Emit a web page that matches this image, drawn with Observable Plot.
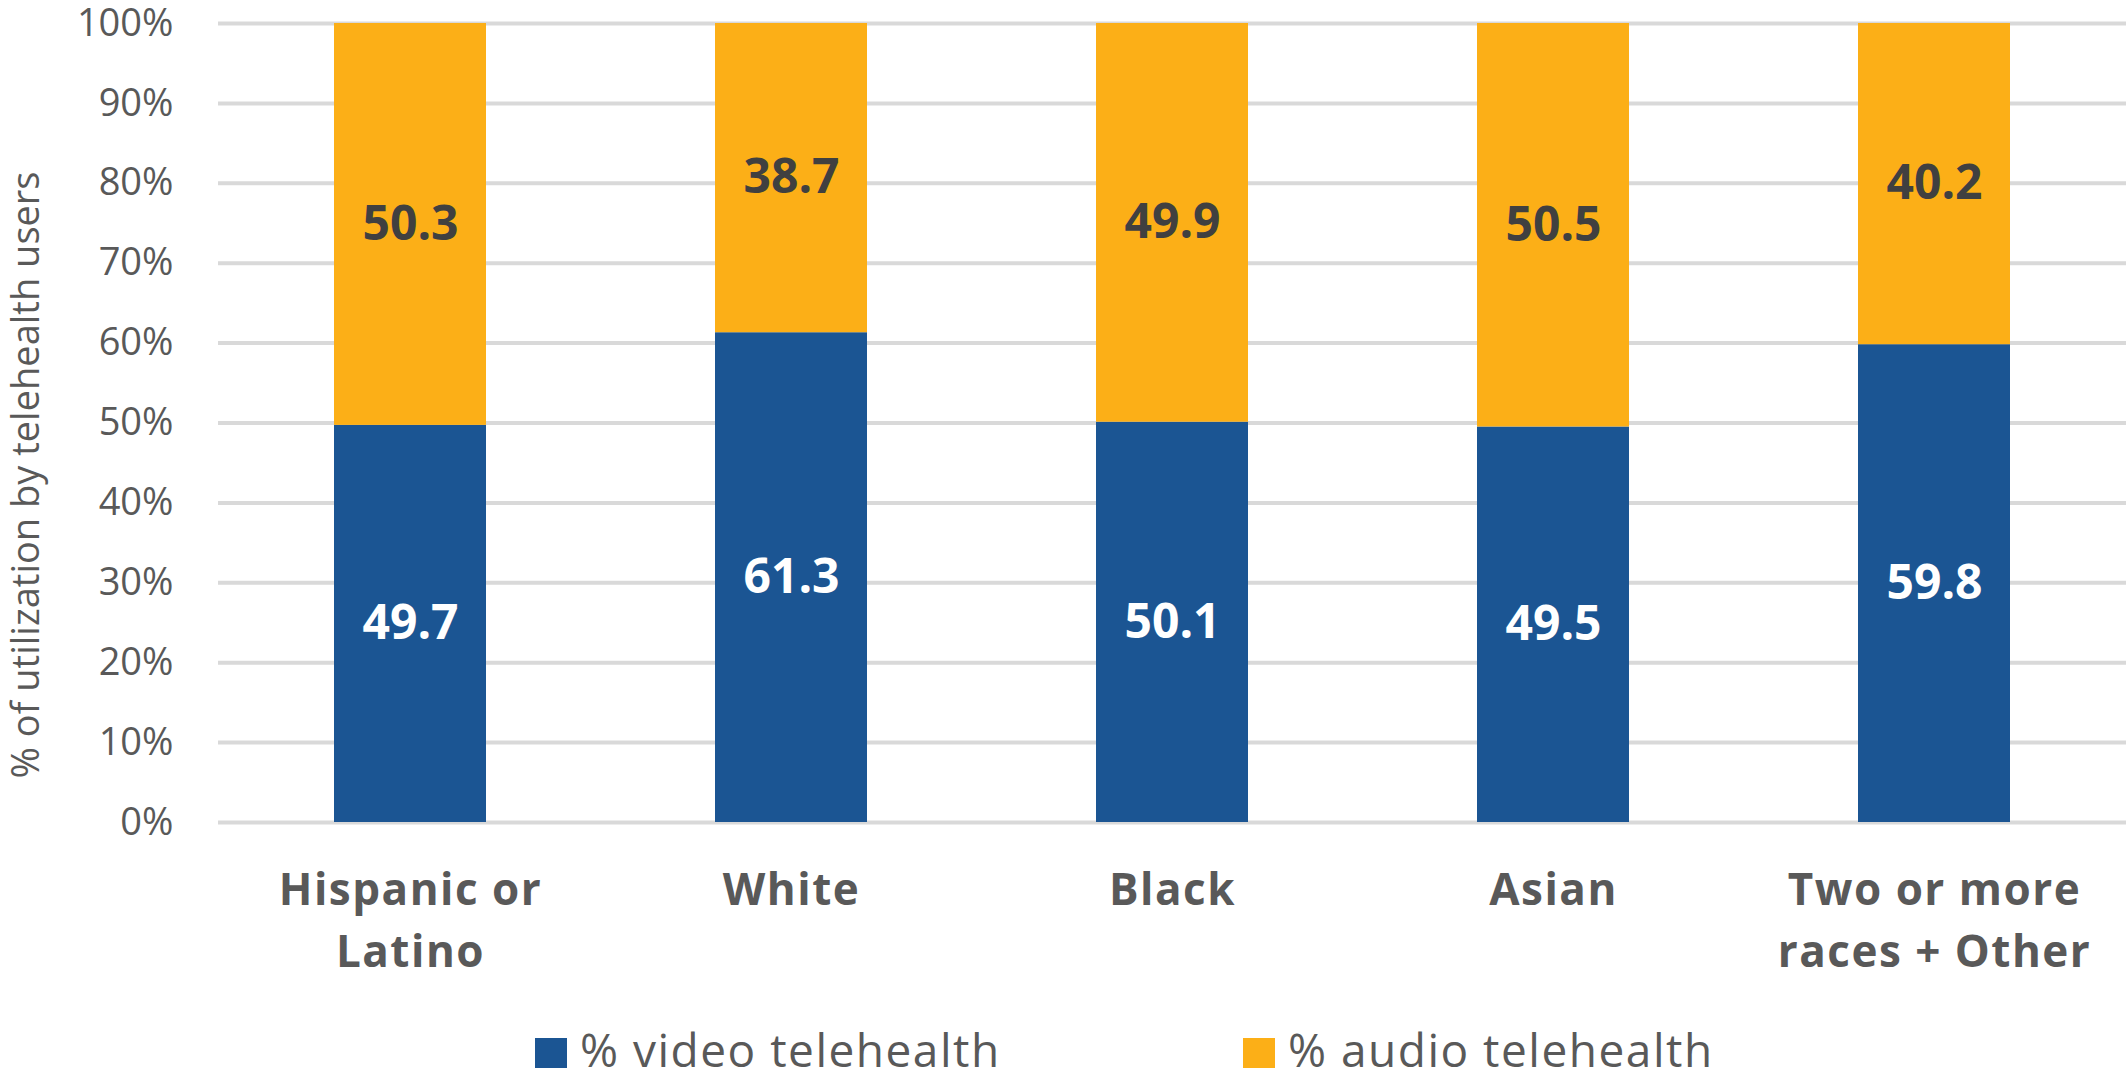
<!DOCTYPE html>
<html><head><meta charset="utf-8">
<script src="https://cdn.jsdelivr.net/npm/d3@7"></script>
<script src="https://cdn.jsdelivr.net/npm/@observablehq/plot@0.6"></script>
<style>
body{margin:0;background:#fff;font-family:"Open Sans",sans-serif;}
#wrap{position:relative;width:2126px;height:1073px;overflow:hidden;background:#fff;}
#wrap svg{position:absolute;left:0;top:0;}
g[aria-label="x-axis tick label"] text{letter-spacing:1.5px;}
.sw{position:absolute;width:32px;height:30px;}
.lt{position:absolute;font-size:46px;line-height:48px;color:#595959;white-space:nowrap;letter-spacing:1.5px;}
</style></head><body><div id="wrap"></div>
<script>
const categories = ["Hispanic or Latino","White","Black","Asian","Two or more races + Other"];
const tickLabels = ["Hispanic or\nLatino","White","Black","Asian","Two or more\nraces + Other"];
const seriesNames = ["% video telehealth","% audio telehealth"];
const videoValues = [49.7,61.3,50.1,49.5,59.8];
const audioValues = [50.3,38.7,49.9,50.5,40.2];
const yTicks = [0,10,20,30,40,50,60,70,80,90,100];
const yTitle = "% of utilization by telehealth users";
const seriesColors = ["#1b5593","#fcaf17"];

const rows = categories.flatMap((c,i)=>[
  {race:c, series:seriesNames[0], value:videoValues[i]},
  {race:c, series:seriesNames[1], value:audioValues[i]}
]);

const chart = Plot.plot({
  width:2126, height:1010,
  marginLeft:218, marginRight:0, marginTop:23, marginBottom:188,
  style:{fontFamily:'"Open Sans", sans-serif', background:"#fff", overflow:"visible"},
  x:{domain:categories, paddingInner:0.6, paddingOuter:0.3, label:null},
  y:{domain:[0,100], label:null},
  color:{domain:seriesNames, range:seriesColors},
  marks:[
    Plot.gridY(yTicks, {stroke:"#d9d9d9", strokeOpacity:1, strokeWidth:4}),
    Plot.axisY(yTicks, {tickSize:0, tickPadding:45, tickFormat:d=>d+"%", fontSize:38, fill:"#595959", label:null}),
    Plot.axisX({tickSize:0, tickPadding:38, tickFormat:d=>tickLabels[categories.indexOf(d)], fontSize:44, fontWeight:"bold", fill:"#595959", lineHeight:1.42, label:null}),
    Plot.barY(rows, {x:"race", y:"value", fill:"series"}),
    Plot.text(rows, Plot.stackY({x:"race", y:"value", z:"series",
      text:d=>d.series===seriesNames[0] ? d.value.toFixed(1) : null,
      fill:"#ffffff", fontSize:48, fontWeight:"bold"})),
    Plot.text(rows, Plot.stackY({x:"race", y:"value", z:"series",
      text:d=>d.series===seriesNames[1] ? d.value.toFixed(1) : null,
      fill:"#404040", fontSize:48, fontWeight:"bold"}))
  ]
});

const wrap = document.getElementById("wrap");
wrap.appendChild(chart);

d3.select(chart).append("text")
  .attr("transform","translate(39,475) rotate(-90)")
  .attr("text-anchor","middle")
  .attr("fill","#595959")
  .attr("font-size",38)
  .attr("font-family",'"Open Sans", sans-serif')
  .text(yTitle);

const legendPos = [{sq:535, tx:580},{sq:1243, tx:1288}];
seriesNames.forEach((name,i)=>{
  const sw = document.createElement("div");
  sw.className="sw"; sw.style.left=legendPos[i].sq+"px"; sw.style.top="1038px";
  sw.style.background=seriesColors[i];
  wrap.appendChild(sw);
  const t = document.createElement("div");
  t.className="lt"; t.style.left=legendPos[i].tx+"px"; t.style.top="1025px";
  t.textContent=name;
  wrap.appendChild(t);
});
</script></body></html>
